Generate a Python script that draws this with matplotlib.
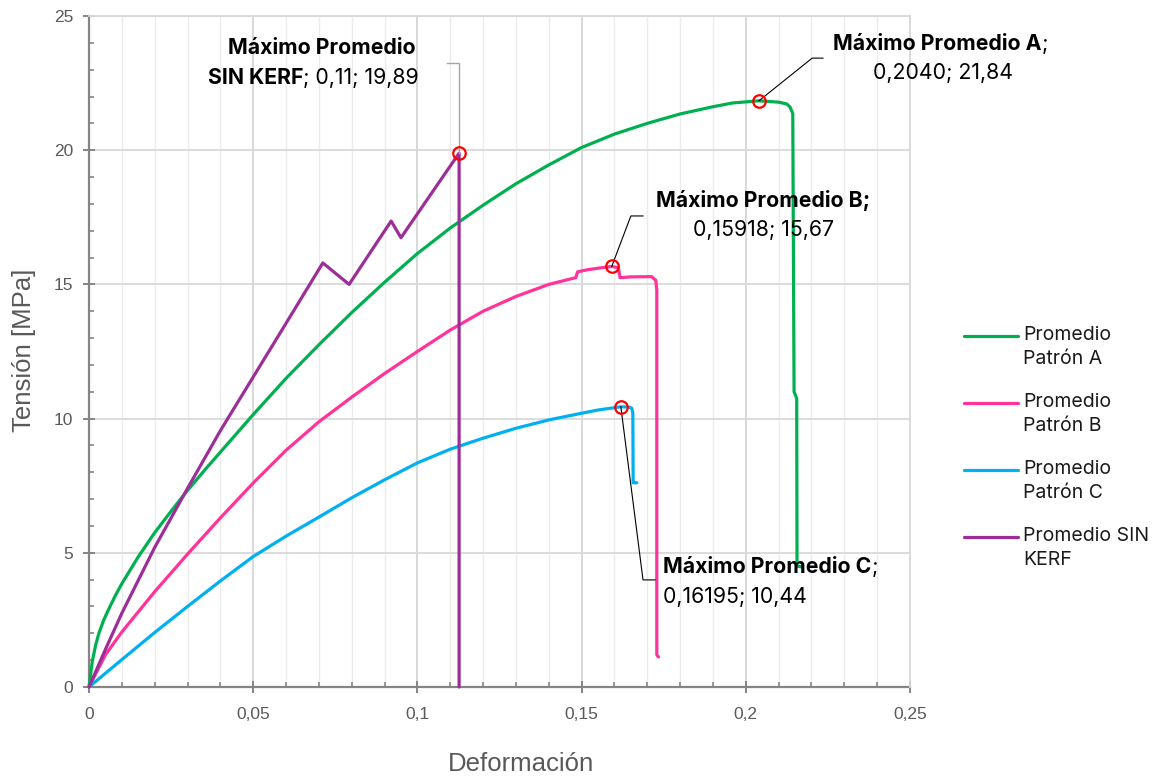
import matplotlib
matplotlib.use("Agg")
import matplotlib.pyplot as plt
from matplotlib.lines import Line2D
from matplotlib.ticker import MultipleLocator, FixedLocator, FixedFormatter
import numpy as np

# ---------------- data ----------------
x_ticks = [0, 0.05, 0.10, 0.15, 0.20, 0.25]
x_tick_labels = ["0", "0,05", "0,1", "0,15", "0,2", "0,25"]
y_ticks = [0, 5, 10, 15, 20, 25]
y_tick_labels = ["0", "5", "10", "15", "20", "25"]

series_names = ["Promedio\nPatrón A", "Promedio\nPatrón B",
                "Promedio\nPatrón C", "Promedio SIN\nKERF"]
series_colors = ["#00B050", "#FF3399", "#00B0F0", "#9B2F97"]

strain_A = [0, 0.001, 0.002, 0.003, 0.0045, 0.006, 0.008, 0.010, 0.0125, 0.015,
            0.0175, 0.020, 0.025, 0.0295, 0.035, 0.040, 0.045, 0.050, 0.060, 0.070,
            0.080, 0.090, 0.100, 0.110, 0.120, 0.130, 0.140, 0.150, 0.160, 0.170,
            0.180, 0.190, 0.196, 0.2040, 0.2100, 0.2125, 0.2135, 0.2143, 0.2147,
            0.2155, 0.2156, 0.2168]
stress_A = [0, 0.95, 1.55, 2.0, 2.5, 2.9, 3.4, 3.85, 4.35, 4.85,
            5.3, 5.75, 6.55, 7.25, 8.05, 8.75, 9.45, 10.15, 11.5, 12.75,
            13.95, 15.08, 16.15, 17.1, 17.95, 18.75, 19.45, 20.1, 20.6, 21.0,
            21.35, 21.62, 21.76, 21.84, 21.79, 21.72, 21.6, 21.37, 11.0,
            10.75, 4.5, 4.48]

strain_B = [0, 0.005, 0.010, 0.020, 0.030, 0.040, 0.050, 0.060, 0.070, 0.080,
            0.090, 0.100, 0.110, 0.120, 0.130, 0.140, 0.1482, 0.1488, 0.152, 0.156,
            0.15918, 0.1612, 0.1617, 0.165, 0.1713, 0.1726, 0.1729, 0.1729, 0.1734]
stress_B = [0, 1.2, 2.05, 3.55, 4.95, 6.3, 7.6, 8.82, 9.88, 10.8,
            11.68, 12.5, 13.3, 14.0, 14.55, 15.0, 15.25, 15.47, 15.55, 15.62,
            15.67, 15.62, 15.25, 15.28, 15.29, 15.15, 14.8, 1.2, 1.12]

strain_C = [0, 0.01, 0.02, 0.03, 0.04, 0.05, 0.06, 0.07, 0.08, 0.09,
            0.10, 0.11, 0.12, 0.13, 0.14, 0.15, 0.155, 0.16195, 0.1645, 0.1653,
            0.1656, 0.1657, 0.1668]
stress_C = [0, 1.02, 2.03, 3.0, 3.95, 4.86, 5.62, 6.33, 7.05, 7.72,
            8.35, 8.86, 9.27, 9.64, 9.95, 10.2, 10.32, 10.44, 10.43, 10.38,
            10.2, 7.61, 7.61]

strain_SK = [0, 0.005, 0.010, 0.020, 0.030, 0.040, 0.050, 0.060, 0.0712, 0.0792,
             0.0920, 0.0950, 0.1127, 0.1127]
stress_SK = [0, 1.4, 2.75, 5.2, 7.4, 9.55, 11.55, 13.55, 15.8, 15.0,
             17.36, 16.74, 19.89, 0]

strains = [strain_A, strain_B, strain_C, strain_SK]
stresses = [stress_A, stress_B, stress_C, stress_SK]
peak_decimals = [4, 5, 5, 2]

# ---------------- styling ----------------
ANN_FONT = ["Inter", "DejaVu Sans"]
AX_FONT = ["Liberation Sans", "DejaVu Sans"]
GREY_TXT = "#595959"
AXIS_GREY = "#858585"

fig = plt.figure(figsize=(11.63, 7.78), dpi=100)
ax = fig.add_axes([89 / 1163, 1 - 687 / 778, 821 / 1163, 671 / 778])

ax.set_xlim(0, 0.25)
ax.set_ylim(0, 25)

# grid
ax.xaxis.set_minor_locator(MultipleLocator(0.01))
ax.yaxis.set_minor_locator(MultipleLocator(1))
ax.xaxis.set_major_locator(FixedLocator(x_ticks))
ax.xaxis.set_major_formatter(FixedFormatter(x_tick_labels))
ax.yaxis.set_major_locator(FixedLocator(y_ticks))
ax.yaxis.set_major_formatter(FixedFormatter(y_tick_labels))
ax.grid(which="minor", axis="x", color="#ececec", lw=1.0, zorder=0)
ax.grid(which="major", axis="x", color="#d6d6d6", lw=1.3, zorder=0)
ax.grid(which="major", axis="y", color="#d9d9d9", lw=1.3, zorder=0)
ax.set_axisbelow(True)

for s in ["top", "right"]:
    ax.spines[s].set_color("#d9d9d9")
    ax.spines[s].set_linewidth(1.3)
for s in ["left", "bottom"]:
    ax.spines[s].set_color(AXIS_GREY)
    ax.spines[s].set_linewidth(1.6)
    ax.spines[s].set_zorder(1)

ax.tick_params(which="major", direction="inout", length=8.5, width=1.4,
               color=AXIS_GREY, labelsize=12.5, labelcolor=GREY_TXT, pad=7)
ax.tick_params(which="minor", direction="in", length=3.8, width=1.2,
               color=AXIS_GREY)
ax.tick_params(axis="x", which="major", pad=10)
for lab in ax.get_xticklabels() + ax.get_yticklabels():
    lab.set_family(AX_FONT)

ax.set_xlabel("Deformación", fontsize=18.5, color=GREY_TXT, family=AX_FONT)
ax.set_ylabel("Tensión [MPa]", fontsize=18.5, color=GREY_TXT, family=AX_FONT)
ax.xaxis.set_label_coords(0.526, -0.097)
ax.yaxis.set_label_coords(-0.064, 0.502)

# curves
for xs, ys, col in zip(strains, stresses, series_colors):
    ax.plot(xs, ys, color=col, lw=2.3, solid_capstyle="round",
            solid_joinstyle="round", zorder=3, clip_on=False)

# peak markers
peaks = []
for xs, ys in zip(strains, stresses):
    i = int(np.argmax(ys))
    peaks.append((xs[i], ys[i]))
    ax.plot(xs[i], ys[i], "o", ms=9, mfc="none", mec="#FF0000", mew=1.6,
            zorder=5, clip_on=False)


def fmt(v, d):
    return f"{v:.{d}f}".replace(".", ",")


peak_text = [f"{fmt(px, d)}; {fmt(py, 2)}" for (px, py), d in zip(peaks, peak_decimals)]

FS = 15.3


def leader(p, pts, color="black", lw=0.8):
    xs = [p[0]] + [q[0] for q in pts]
    ys = [p[1]] + [q[1] for q in pts]
    ax.plot(xs, ys, color=color, lw=lw, zorder=4, clip_on=False)


def bold_then_regular(x, y, bold, regular, ha="left"):
    t = ax.text(x, y, bold, fontsize=FS, weight="bold", family=ANN_FONT,
                ha=ha, va="center", zorder=6)
    ax.annotate(regular, xy=(1, 0), xycoords=t, fontsize=FS, family=ANN_FONT,
                ha="left", va="bottom", zorder=6)
    return t


# annotation A
pA = peaks[0]
leader(pA, [(0.2202, 23.43), (0.2235, 23.43)])
bold_then_regular(0.2266, 23.96, "Máximo Promedio A", ";")
ax.text(0.2600, 22.88, peak_text[0], fontsize=FS, family=ANN_FONT,
        ha="center", va="center", zorder=6)

# annotation B
pB = peaks[1]
leader(pB, [(0.1650, 17.55), (0.1687, 17.55)])
ax.text(0.2054, 18.14, "Máximo Promedio B;", fontsize=FS, weight="bold",
        family=ANN_FONT, ha="center", va="center", zorder=6)
ax.text(0.2054, 17.03, peak_text[1], fontsize=FS, family=ANN_FONT,
        ha="center", va="center", zorder=6)

# annotation C
pC = peaks[2]
leader(pC, [(0.1687, 3.99), (0.1724, 3.99)])
bold_then_regular(0.1748, 4.47, "Máximo Promedio C", ";")
ax.text(0.1748, 3.35, peak_text[2], fontsize=FS, family=ANN_FONT,
        ha="left", va="center", zorder=6)

# annotation SIN KERF
pS = peaks[3]
leader(pS, [(pS[0], 23.25), (0.1090, 23.25)], color="#a6a6a6", lw=1.0)
ax.text(0.0708, 23.81, "Máximo Promedio", fontsize=FS, weight="bold",
        family=ANN_FONT, ha="center", va="center", zorder=6)
bold_then_regular(0.0362, 22.69, "SIN KERF", "; " + peak_text[3])

# legend
leg_y = [336, 403, 470, 537]
for name, col, yp in zip(series_names, series_colors, leg_y):
    yf = 1 - yp / 778
    fig.add_artist(Line2D([964 / 1163, 1018 / 1163], [yf, yf], color=col,
                          lw=2.3, solid_capstyle="round",
                          transform=fig.transFigure))
    fig.text(1023 / 1163, yf + 10 / 778, name, fontsize=14, family=ANN_FONT,
             color="#1a1a1a", ha="left", va="top", linespacing=1.4)

fig.savefig("out.png", dpi=100)
